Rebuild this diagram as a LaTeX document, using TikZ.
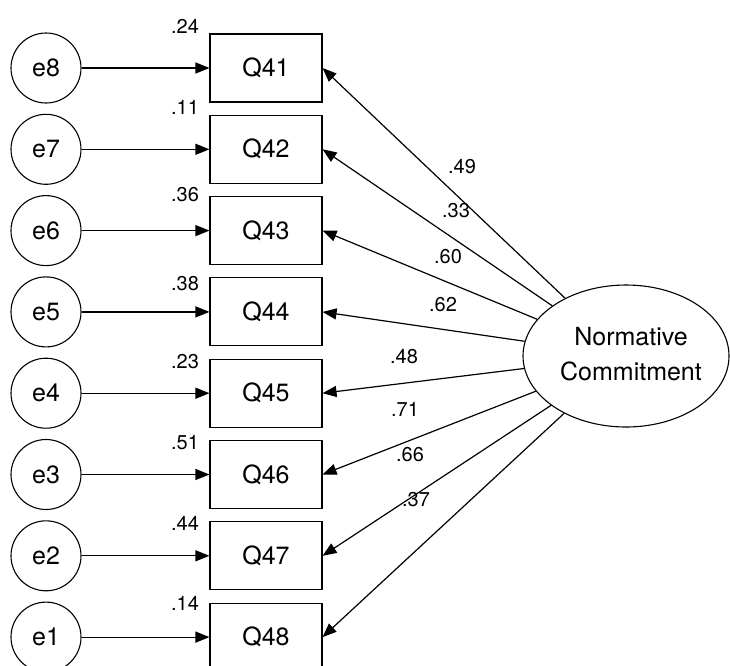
\documentclass[tikz,border=0pt]{standalone}
\usepackage{fontspec}
\setmainfont{TeX Gyre Heros}
\usetikzlibrary{arrows.meta,shapes.geometric}
\begin{document}
\begin{tikzpicture}[x=1pt,y=-1pt,
  every node/.style={font=\fontsize{25}{35}\selectfont},
  errvar/.style={circle,draw,line width=1.1pt,minimum size=70pt,inner sep=0pt},
  item/.style={rectangle,draw,line width=1.1pt,minimum width=112pt,minimum height=68pt,inner sep=0pt},
  latent/.style={ellipse,draw,line width=1.1pt,minimum width=206pt,minimum height=142pt,inner sep=0pt},
  rsq/.style={font=\fontsize{20}{24}\selectfont,inner sep=0pt},
  load/.style={font=\fontsize{20}{24}\selectfont,inner sep=0pt},
  path/.style={line width=1.2pt,-{Triangle[length=14pt,width=11pt]}}
]
\clip (0,0) rectangle (730,665);
\fill[white] (0,0) rectangle (730,665);

% latent factor (text nudged up and right inside the ellipse)
\node[latent] (nc) at (626,356)
  {\raisebox{6pt}{\makebox[0pt]{\hspace*{10pt}\begin{tabular}{@{}c@{}}Normative\\Commitment\end{tabular}}}};

% indicators, their error terms and squared multiple correlations
\foreach \q/\e/\y/\r/\ry in {41/8/68/.24/26, 42/7/149.3/.11/107, 43/6/230.6/.36/195,
    44/5/311.9/.38/284, 45/4/393.2/.23/362, 46/3/474.5/.51/443,
    47/2/555.8/.44/523, 48/1/637.1/.14/603}{
  \node[item] (q\q) at (266,\y) {Q\q};
  \node[errvar] (e\e) at (46,\y) {e\e};
  \node[rsq] (r\q) at (185,\ry) {\r};
  \draw[path] (e\e) -- (q\q);
  \draw[path] (nc) -- (q\q.east);
}

% factor loadings
\node[load] (l41) at (462,167) {.49};
\node[load] (l42) at (456,211) {.33};
\node[load] (l43) at (448,257) {.60};
\node[load] (l44) at (443,305) {.62};
\node[load] (l45) at (404,357) {.48};
\node[load] (l46) at (405,409) {.71};
\node[load] (l47) at (410,455) {.66};
\node[load] (l48) at (416,500) {.37};
\end{tikzpicture}
\end{document}
